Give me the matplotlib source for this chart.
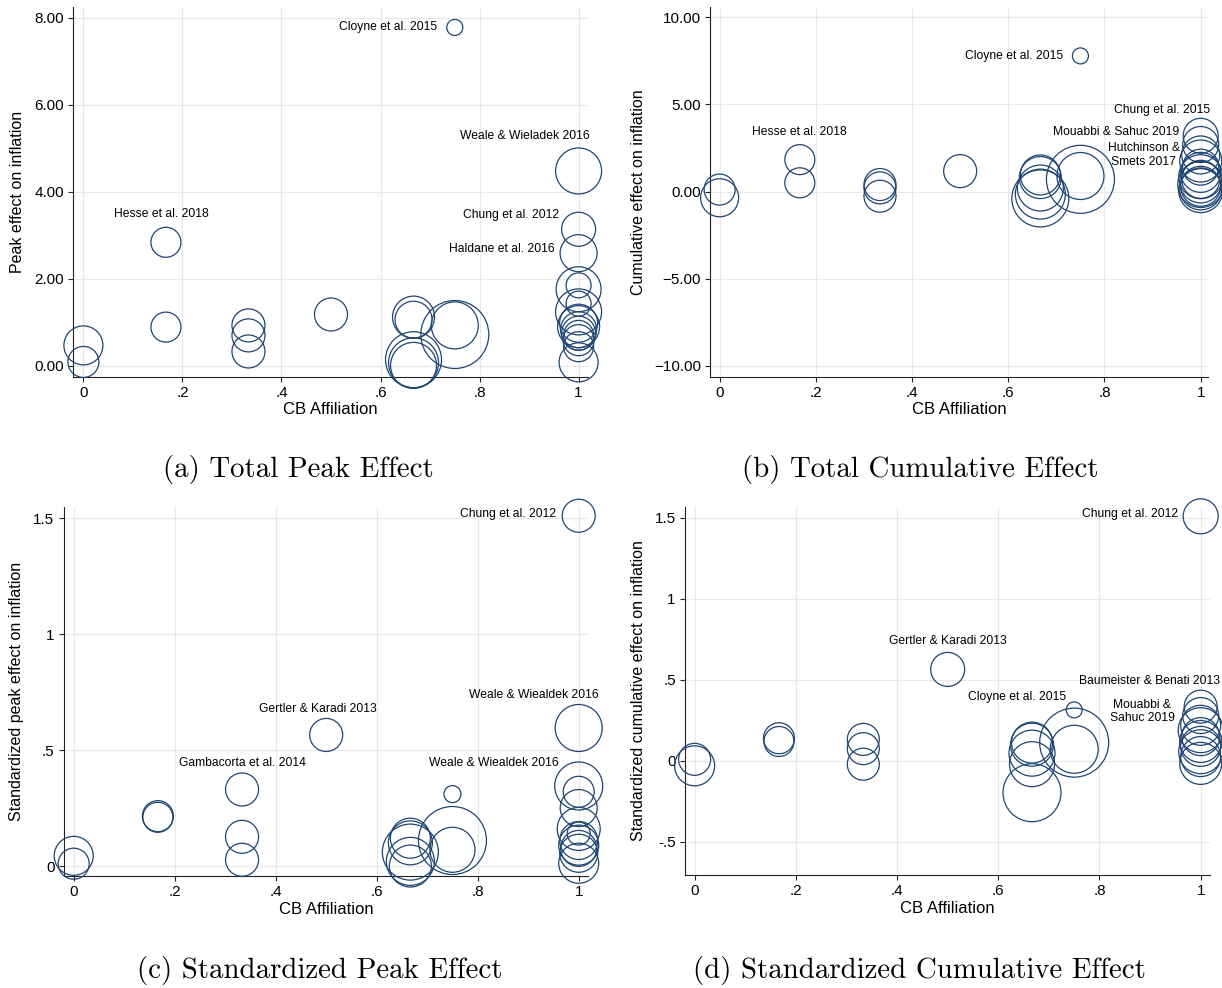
import matplotlib
matplotlib.use("Agg")
import matplotlib.pyplot as plt

plt.rcParams['font.family'] = ['Liberation Sans', 'DejaVu Sans']

NAVY = '#1f4572'
GRID = '#e8e8e8'

# ---- data (CB affiliation, effect, study weight) ----
xa = [0, 0, 1/6, 1/6, 1/3, 1/3, 1/3, 0.5, 2/3, 2/3, 2/3, 2/3, 2/3, 0.75, 0.75, 0.75,
      1, 1, 1, 1, 1, 1, 1, 1, 1, 1, 1, 1, 1, 1, 1]
ya = [0.47, 0.09, 2.84, 0.89, 0.93, 0.70, 0.33, 1.18, 1.12, 1.06, 0.14, 0.07, 0.01, 0.72, 0.93, 7.78,
      4.48, 3.14, 2.59, 1.76, 1.85, 1.24, 1.43, 0.98, 0.90, 0.83, 0.75, 0.70, 0.59, 0.44, 0.08]
wa = [39, 31, 30, 30, 33, 33, 33, 33, 42, 37, 56, 50, 46, 68, 47, 16,
      46, 34, 37, 45, 25, 46, 25, 38, 42, 36, 34, 30, 31, 30, 39]

xb = [0, 0, 1/6, 1/6, 1/3, 1/3, 1/3, 0.5, 2/3, 2/3, 2/3, 2/3, 2/3, 0.75, 0.75, 0.75,
      1, 1, 1, 1, 1, 1, 1, 1, 1, 1, 1, 1, 1]
yb = [0.11, -0.36, 1.83, 0.50, 0.40, 0.21, -0.27, 1.17, 0.95, 0.80, 0.20, -0.15, -0.40, 0.70, 0.89, 7.79,
      3.20, 2.70, 2.10, 1.75, 1.40, 1.10, 0.85, 0.70, 0.55, 0.40, 0.30, 0.15, 0.05]
wb = [31, 38, 30, 30, 32, 32, 32, 33, 40, 42, 46, 50, 57, 68, 47, 16,
      35, 36, 38, 42, 36, 40, 44, 38, 42, 46, 40, 42, 44]

xc = [0, 0, 1/6, 1/6, 1/3, 1/3, 1/3, 0.5, 2/3, 2/3, 2/3, 2/3, 2/3, 0.75, 0.75, 0.75,
      1, 1, 1, 1, 1, 1, 1, 1, 1, 1, 1, 1]
yc = [0.044, 0.01, 0.215, 0.21, 0.33, 0.126, 0.027, 0.565, 0.12, 0.10, 0.06, 0.02, 0.0, 0.31, 0.11, 0.07,
      1.51, 0.595, 0.345, 0.32, 0.25, 0.16, 0.14, 0.11, 0.09, 0.076, 0.055, 0.012]
wc = [39, 31, 31, 30, 33, 33, 33, 33, 40, 44, 56, 48, 42, 17, 68, 45,
      33, 47, 48, 31, 37, 43, 23, 38, 40, 36, 38, 40]

xd = [0, 0, 1/6, 1/6, 1/3, 1/3, 1/3, 0.5, 2/3, 2/3, 2/3, 2/3, 2/3, 0.75, 0.75, 0.75,
      1, 1, 1, 1, 1, 1, 1, 1, 1, 1, 1]
yd = [0.01, -0.03, 0.14, 0.12, 0.133, 0.076, -0.02, 0.565, 0.113, 0.10, 0.048, -0.02, -0.196, 0.315, 0.113, 0.072,
      1.51, 0.335, 0.28, 0.22, 0.19, 0.15, 0.12, 0.09, 0.057, 0.027, -0.015]
wd = [32, 40, 31, 30, 32, 32, 32, 34, 41, 43, 46, 45, 58, 16, 69, 48,
      35, 33, 36, 40, 45, 38, 42, 40, 44, 40, 42]

# labelled studies: (text, x, y)
lab_a = [("Cloyne et al. 2015", 0.75, 7.78), ("Weale & Wieladek 2016", 1, 4.48),
         ("Chung et al. 2012", 1, 3.14), ("Haldane et al. 2016", 1, 2.59),
         ("Hesse et al. 2018", 1/6, 2.84)]
lab_b = [("Cloyne et al. 2015", 0.75, 7.79), ("Hesse et al. 2018", 1/6, 1.83),
         ("Chung et al. 2015", 1, 3.20), ("Mouabbi & Sahuc 2019", 1, 2.70),
         ("Hutchinson &\nSmets 2017", 1, 2.10)]
lab_c = [("Chung et al. 2012", 1, 1.51), ("Weale & Wiealdek 2016", 1, 0.595),
         ("Weale & Wiealdek 2016", 1, 0.345), ("Gertler & Karadi 2013", 0.5, 0.565),
         ("Gambacorta et al. 2014", 1/3, 0.33)]
lab_d = [("Chung et al. 2012", 1, 1.51), ("Gertler & Karadi 2013", 0.5, 0.565),
         ("Cloyne et al. 2015", 0.75, 0.315), ("Baumeister & Benati 2013", 1, 0.335),
         ("Mouabbi &\nSahuc 2019", 1, 0.28)]

# label placement (pixels right, pixels up, alignment)
pos_a = [(-18, 0, 'right'), (11, 35, 'right'), (-19, 14, 'right'), (-24, 4, 'right'), (-5, 28, 'center')]
pos_b = [(-17, 0, 'right'), (0, 28, 'center'), (9, 26, 'right'), (-21, 13, 'right'), (-21, 0, 'right')]
pos_c = [(-23, 2, 'right'), (20, 33, 'right'), (-20, 23, 'right'), (-8, 26, 'center'), (0, 26, 'center')]
pos_d = [(-23, 2, 'right'), (0, 28, 'center'), (-8, 13, 'right'), (19, 26, 'right'), (-26, 4, 'right')]

xticks = [0, 0.2, 0.4, 0.6, 0.8, 1]
xticklabels = ['0', '.2', '.4', '.6', '.8', '1']

fig = plt.figure(figsize=(12.22, 9.88), dpi=100)
W, H = 1222, 988


def make_ax(left, right, top, bottom):
    return fig.add_axes([left / W, 1 - bottom / H, (right - left) / W, (bottom - top) / H])


def panel(ax, x, y, w, labels, pos, xlim, ylim, yt, ytl, ylabel, ylx):
    ax.set_xlim(*xlim)
    ax.set_ylim(*ylim)
    ax.set_xticks(xticks)
    ax.set_xticklabels(xticklabels)
    ax.set_yticks(yt)
    ax.set_yticklabels(ytl)
    ax.grid(True, color=GRID, lw=0.8, zorder=0)
    ax.set_axisbelow(True)
    for s in ['top', 'right']:
        ax.spines[s].set_visible(False)
    for s in ['left', 'bottom']:
        ax.spines[s].set_linewidth(0.8)
        ax.spines[s].set_color('#222222')
    ax.tick_params(length=3.6, width=0.8, labelsize=11, pad=3, color='#222222')
    sizes = [(v * 0.72) ** 2 for v in w]
    ax.scatter(x, y, s=sizes, facecolors='none', edgecolors=NAVY, linewidths=0.9,
               zorder=3, clip_on=False)
    for (t, lx, ly), (dx, dy, ha) in zip(labels, pos):
        ax.annotate(t, (lx, ly), xytext=(dx * 0.72, dy * 0.72), textcoords='offset points',
                    ha=ha, va='center', fontsize=8.7, multialignment='center', zorder=4)
    ax.set_ylabel(ylabel, fontsize=11.5, va='center')
    ax.yaxis.set_label_coords(ylx, 0.5)
    ax.set_xlabel('CB Affiliation', fontsize=12, va='center')
    ax.xaxis.set_label_coords(0.5, -0.09)


ax1 = make_ax(73, 588, 7, 376.7)
panel(ax1, xa, ya, wa, lab_a, pos_a, (-0.021, 1.019), (-0.25, 8.25),
      [0, 2, 4, 6, 8], ['0.00', '2.00', '4.00', '6.00', '8.00'],
      'Peak effect on inflation', -0.108)

ax2 = make_ax(710, 1208.4, 7, 376.7)
panel(ax2, xb, yb, wb, lab_b, pos_b, (-0.02, 1.016), (-10.64, 10.6),
      [-10, -5, 0, 5, 10], ['\u221210.00', '\u22125.00', '0.00', '5.00', '10.00'],
      'Cumulative effect on inflation', -0.1425)

ax3 = make_ax(63.6, 588.3, 506.7, 876)
panel(ax3, xc, yc, wc, lab_c, pos_c, (-0.02, 1.019), (-0.043, 1.549),
      [0, 0.5, 1, 1.5], ['0', '.5', '1', '1.5'],
      'Standardized peak effect on inflation', -0.09)

ax4 = make_ax(685, 1209.8, 506.6, 875)
panel(ax4, xd, yd, wd, lab_d, pos_d, (-0.019, 1.018), (-0.704, 1.57),
      [-0.5, 0, 0.5, 1, 1.5], ['-.5', '0', '.5', '1', '1.5'],
      'Standardized cumulative effect on inflation', -0.0885)

cap = dict(fontfamily='cmr10', fontsize=20.8, ha='center', va='center')
fig.text(298.5 / W, 1 - 469 / H, '(a) Total Peak Effect', **cap)
fig.text(920.5 / W, 1 - 469 / H, '(b) Total Cumulative Effect', **cap)
fig.text(320 / W, 1 - 970 / H, '(c) Standardized Peak Effect', **cap)
fig.text(919.5 / W, 1 - 970 / H, '(d) Standardized Cumulative Effect', **cap)

fig.savefig('out.png', dpi=100, facecolor='white')
